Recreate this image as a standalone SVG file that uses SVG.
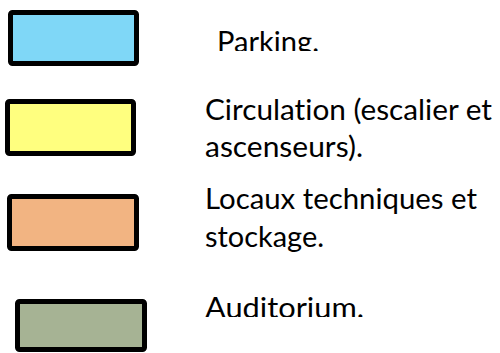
<svg xmlns="http://www.w3.org/2000/svg" width="500" height="353" viewBox="0 0 500 353">
<style>
.box{stroke:#000;stroke-width:5;stroke-linejoin:round}
.t{font-family:Lato,"Open Sans","Liberation Sans",sans-serif;font-size:28px;fill:#000;font-variant-ligatures:none;font-feature-settings:"liga" 0}
</style>
<defs>
<clipPath id="c1"><rect x="200" y="0" width="200" height="51"/></clipPath>
<clipPath id="c6"><rect x="190" y="280" width="200" height="37"/></clipPath>
</defs>
<rect width="500" height="353" fill="#fff"/>
<g id="parking">
<rect class="box" x="10.5" y="12.5" width="126" height="51" rx="2" fill="#7FD7F7"/>
<text class="t" x="217" y="52" textLength="102" lengthAdjust="spacingAndGlyphs" clip-path="url(#c1)">Parking.</text>
</g>
<g id="circulation">
<rect class="box" x="7.5" y="101.5" width="126" height="52" rx="2" fill="#FFFF7F"/>
<text class="t" x="205" y="120" textLength="287" lengthAdjust="spacingAndGlyphs">Circulation (escalier et</text>
<text class="t" x="205" y="157" textLength="158" lengthAdjust="spacingAndGlyphs">ascenseurs).</text>
</g>
<g id="locaux">
<rect class="box" x="9.5" y="196.5" width="127" height="52" rx="2" fill="#F2B482"/>
<text class="t" x="205" y="209" textLength="272" lengthAdjust="spacingAndGlyphs">Locaux techniques et</text>
<text class="t" x="205" y="247" textLength="119" lengthAdjust="spacingAndGlyphs">stockage.</text>
</g>
<g id="auditorium">
<rect class="box" x="17.5" y="301.5" width="127" height="48" rx="2" fill="#A6B394"/>
<text class="t" x="205" y="318" textLength="159" lengthAdjust="spacingAndGlyphs" clip-path="url(#c6)">Auditorium.</text>
</g>
<g id="connectors"/>
</svg>
